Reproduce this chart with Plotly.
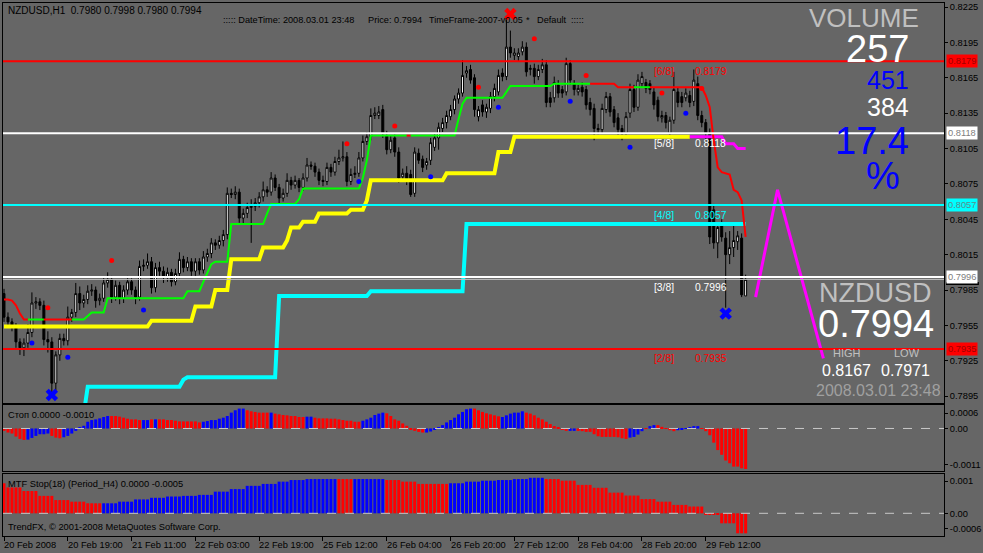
import plotly.graph_objects as go

# ---------------- DATA ----------------
opens = [
0.7982, 0.7962, 0.7958, 0.7954, 0.7941, 0.7936, 0.7940, 0.7949, 0.7974, 0.7975,
0.7972, 0.7943, 0.7941, 0.7906, 0.7930, 0.7944, 0.7942, 0.7962, 0.7966, 0.7982,
0.7974, 0.7977, 0.7984, 0.7985, 0.7976, 0.7978, 0.7991, 0.7994, 0.7979, 0.7989,
0.7978, 0.7985, 0.7992, 0.7985, 0.7979, 0.8005, 0.8006, 0.8009, 0.7987, 0.8004,
0.8001, 0.7996, 0.8000, 0.7992, 0.7999, 0.8011, 0.8004, 0.8009, 0.8001, 0.8009,
0.8002, 0.8013, 0.8016, 0.8025, 0.8023, 0.8027, 0.8032, 0.8067, 0.8066, 0.8068,
0.8046, 0.8050, 0.8055, 0.8056, 0.8059, 0.8064, 0.8070, 0.8068, 0.8080, 0.8072,
0.8063, 0.8067, 0.8078, 0.8074, 0.8078, 0.8072, 0.8080, 0.8091, 0.8090, 0.8085,
0.8078, 0.8077, 0.8089, 0.8085, 0.8094, 0.8097, 0.8098, 0.8077, 0.8083, 0.8084,
0.8097, 0.8111, 0.8115, 0.8133, 0.8133, 0.8138, 0.8116, 0.8104, 0.8114, 0.8102,
0.8081, 0.8084, 0.8083, 0.8067, 0.8101, 0.8096, 0.8091, 0.8095, 0.8106, 0.8114,
0.8122, 0.8127, 0.8132, 0.8138, 0.8147, 0.8152, 0.8169, 0.8172, 0.8165, 0.8132,
0.8142, 0.8136, 0.8139, 0.8149, 0.8153, 0.8169, 0.8166, 0.8191, 0.8184, 0.8183,
0.8187, 0.8191, 0.8172, 0.8173, 0.8166, 0.8172, 0.8176, 0.8148, 0.8148, 0.8159,
0.8155, 0.8153, 0.8177, 0.8160, 0.8153, 0.8157, 0.8155, 0.8144, 0.8139, 0.8122,
0.8121, 0.8138, 0.8149, 0.8138, 0.8131, 0.8122, 0.8118, 0.8135, 0.8155, 0.8140,
0.8160, 0.8161, 0.8160, 0.8153, 0.8146, 0.8131, 0.8133, 0.8118, 0.8129, 0.8153,
0.8149, 0.8148, 0.8150, 0.8145, 0.8160, 0.8133, 0.8127, 0.8118, 0.8053, 0.8025,
0.8040, 0.8029, 0.8015, 0.8021, 0.8026, 0.8029, 0.7980]
highs = [
0.7986, 0.7966, 0.7961, 0.7957, 0.7944, 0.7944, 0.7956, 0.7983, 0.7979, 0.7978,
0.7976, 0.7950, 0.7945, 0.7933, 0.7948, 0.7948, 0.7971, 0.7969, 0.7991, 0.7988,
0.7981, 0.7989, 0.7990, 0.7988, 0.7982, 0.7996, 0.8000, 0.7997, 0.7993, 0.7992,
0.7989, 0.7997, 0.7995, 0.7988, 0.8010, 0.8011, 0.8016, 0.8013, 0.8008, 0.8009,
0.8005, 0.8004, 0.8003, 0.8003, 0.8017, 0.8014, 0.8013, 0.8012, 0.8012, 0.8012,
0.8018, 0.8020, 0.8029, 0.8028, 0.8031, 0.8036, 0.8072, 0.8071, 0.8073, 0.8071,
0.8054, 0.8059, 0.8062, 0.8063, 0.8068, 0.8077, 0.8073, 0.8085, 0.8083, 0.8075,
0.8071, 0.8084, 0.8081, 0.8082, 0.8080, 0.8084, 0.8097, 0.8094, 0.8093, 0.8088,
0.8082, 0.8093, 0.8092, 0.8098, 0.8104, 0.8111, 0.8102, 0.8088, 0.8090, 0.8102,
0.8116, 0.8119, 0.8139, 0.8140, 0.8141, 0.8142, 0.8120, 0.8116, 0.8117, 0.8106,
0.8088, 0.8090, 0.8087, 0.8106, 0.8105, 0.8099, 0.8097, 0.8114, 0.8118, 0.8127,
0.8131, 0.8137, 0.8142, 0.8150, 0.8156, 0.8180, 0.8175, 0.8176, 0.8168, 0.8141,
0.8146, 0.8143, 0.8153, 0.8160, 0.8172, 0.8173, 0.8214, 0.8205, 0.8190, 0.8190,
0.8196, 0.8195, 0.8176, 0.8177, 0.8176, 0.8181, 0.8180, 0.8153, 0.8166, 0.8163,
0.8158, 0.8182, 0.8180, 0.8163, 0.8159, 0.8161, 0.8158, 0.8148, 0.8143, 0.8126,
0.8143, 0.8153, 0.8152, 0.8141, 0.8135, 0.8125, 0.8136, 0.8160, 0.8159, 0.8168,
0.8170, 0.8164, 0.8163, 0.8157, 0.8149, 0.8137, 0.8136, 0.8132, 0.8170, 0.8157,
0.8153, 0.8156, 0.8154, 0.8172, 0.8166, 0.8137, 0.8130, 0.8122, 0.8058, 0.8041,
0.8045, 0.8034, 0.8035, 0.8042, 0.8035, 0.8033, 0.7998]
lows = [
0.7958, 0.7953, 0.7950, 0.7936, 0.7930, 0.7929, 0.7936, 0.7945, 0.7969, 0.7968,
0.7938, 0.7932, 0.7897, 0.7899, 0.7925, 0.7938, 0.7938, 0.7958, 0.7962, 0.7968,
0.7970, 0.7973, 0.7980, 0.7970, 0.7972, 0.7975, 0.7987, 0.7974, 0.7976, 0.7973,
0.7974, 0.7981, 0.7981, 0.7973, 0.7976, 0.8001, 0.8003, 0.7982, 0.7983, 0.7997,
0.7991, 0.7992, 0.7988, 0.7989, 0.7995, 0.8000, 0.8001, 0.7997, 0.7997, 0.7998,
0.7999, 0.8009, 0.8012, 0.8019, 0.8020, 0.8022, 0.8028, 0.8063, 0.8062, 0.8042,
0.8041, 0.8046, 0.8025, 0.8052, 0.8055, 0.8060, 0.8064, 0.8065, 0.8069, 0.8058,
0.8060, 0.8064, 0.8070, 0.8071, 0.8068, 0.8069, 0.8077, 0.8087, 0.8081, 0.8074,
0.8073, 0.8074, 0.8081, 0.8082, 0.8091, 0.8094, 0.8073, 0.8074, 0.8080, 0.8081,
0.8094, 0.8108, 0.8112, 0.8130, 0.8130, 0.8114, 0.8100, 0.8101, 0.8098, 0.8076,
0.8077, 0.8074, 0.8064, 0.8064, 0.8092, 0.8085, 0.8087, 0.8091, 0.8103, 0.8104,
0.8119, 0.8122, 0.8129, 0.8134, 0.8143, 0.8149, 0.8165, 0.8160, 0.8132, 0.8128,
0.8132, 0.8131, 0.8135, 0.8145, 0.8150, 0.8162, 0.8163, 0.8182, 0.8180, 0.8179,
0.8184, 0.8166, 0.8167, 0.8160, 0.8163, 0.8169, 0.8140, 0.8140, 0.8144, 0.8148,
0.8148, 0.8150, 0.8159, 0.8150, 0.8150, 0.8149, 0.8138, 0.8133, 0.8112, 0.8117,
0.8118, 0.8135, 0.8132, 0.8123, 0.8115, 0.8112, 0.8114, 0.8131, 0.8136, 0.8137,
0.8157, 0.8152, 0.8151, 0.8138, 0.8128, 0.8127, 0.8122, 0.8114, 0.8126, 0.8140,
0.8140, 0.8145, 0.8140, 0.8141, 0.8129, 0.8123, 0.8112, 0.8024, 0.8020, 0.8012,
0.8026, 0.7970, 0.8007, 0.8013, 0.8019, 0.7979, 0.7980]
closes = [
0.7962, 0.7958, 0.7954, 0.7941, 0.7936, 0.7940, 0.7949, 0.7974, 0.7975, 0.7972,
0.7943, 0.7941, 0.7906, 0.7930, 0.7944, 0.7942, 0.7962, 0.7966, 0.7982, 0.7974,
0.7977, 0.7984, 0.7985, 0.7976, 0.7978, 0.7991, 0.7994, 0.7979, 0.7989, 0.7978,
0.7985, 0.7992, 0.7985, 0.7979, 0.8005, 0.8006, 0.8009, 0.7987, 0.8004, 0.8001,
0.7996, 0.8000, 0.7992, 0.7999, 0.8011, 0.8004, 0.8009, 0.8001, 0.8009, 0.8002,
0.8013, 0.8016, 0.8025, 0.8023, 0.8027, 0.8032, 0.8067, 0.8066, 0.8068, 0.8046,
0.8050, 0.8055, 0.8056, 0.8059, 0.8064, 0.8070, 0.8068, 0.8080, 0.8072, 0.8063,
0.8067, 0.8078, 0.8074, 0.8078, 0.8072, 0.8080, 0.8091, 0.8090, 0.8085, 0.8078,
0.8077, 0.8089, 0.8085, 0.8094, 0.8097, 0.8098, 0.8077, 0.8083, 0.8084, 0.8097,
0.8111, 0.8115, 0.8133, 0.8135, 0.8136, 0.8118, 0.8104, 0.8112, 0.8102, 0.8080,
0.8084, 0.8078, 0.8066, 0.8102, 0.8095, 0.8089, 0.8094, 0.8110, 0.8114, 0.8123,
0.8127, 0.8133, 0.8138, 0.8147, 0.8152, 0.8167, 0.8171, 0.8163, 0.8138, 0.8138,
0.8136, 0.8140, 0.8149, 0.8156, 0.8167, 0.8166, 0.8191, 0.8186, 0.8186, 0.8186,
0.8191, 0.8170, 0.8173, 0.8166, 0.8172, 0.8176, 0.8144, 0.8144, 0.8161, 0.8152,
0.8152, 0.8177, 0.8163, 0.8155, 0.8156, 0.8153, 0.8142, 0.8138, 0.8122, 0.8121,
0.8139, 0.8149, 0.8136, 0.8127, 0.8121, 0.8118, 0.8132, 0.8155, 0.8140, 0.8163,
0.8166, 0.8156, 0.8155, 0.8142, 0.8132, 0.8133, 0.8127, 0.8129, 0.8155, 0.8144,
0.8144, 0.8152, 0.8144, 0.8163, 0.8133, 0.8127, 0.8118, 0.8030, 0.8025, 0.8038,
0.8030, 0.8015, 0.8021, 0.8027, 0.8031, 0.7981, 0.7994]

time_tick_bars = [0, 16, 32, 48, 64, 80, 96, 112, 128, 144, 160, 176]
time_tick_labels = ["20 Feb 2008", "20 Feb 19:00", "21 Feb 11:00", "22 Feb 03:00",
                    "22 Feb 19:00", "25 Feb 12:00", "26 Feb 04:00", "26 Feb 20:00",
                    "27 Feb 12:00", "28 Feb 04:00", "28 Feb 20:00", "29 Feb 12:00"]

price_ticks = [0.8225, 0.8195, 0.8165, 0.8135, 0.8105, 0.8075, 0.8045, 0.8015,
               0.7985, 0.7955, 0.7925, 0.7895]

# green/red trailing stop
stop_line = ([0.7977, 0.7977, 0.7976, 0.7972, 0.7965, 0.7960] + [0.7960] * 15 + [0.7963]
             + [0.7966] * 4 + [0.7978] * 20 + [0.7984] * 4 + [0.7992, 0.8000, 0.8007]
             + [0.8009] * 4 + [0.8041] * 9 + [0.8050] + [0.8058] * 7 + [0.8062]
             + [0.8071] * 15 + [0.8080, 0.8095] + [0.8116] * 22 + [0.8130, 0.8143]
             + [0.8148] * 10 + [0.8153] + [0.8158] * 11 + [0.8160] * 16 + [0.8157] * 22
             + [0.8150, 0.8140, 0.8112, 0.8089, 0.8085, 0.8084, 0.8083, 0.8070, 0.8068,
                0.8061, 0.8030])
stop_dir = "r" * 6 + "g" * 4 + "r" * 7 + "g" * 84 + "r" + "g" * 45 + "r" * 11 + "g" * 4 + "r" * 25

# yellow (later magenta) stop
trail_line = ([0.7954] * 37 + [0.7959] * 11 + [0.7971] * 5 + [0.7985] * 4 + [0.8011] * 8
              + [0.8021] * 6 + [0.8027] + [0.8038] * 3 + [0.8043] * 4 + [0.8050] * 8
              + [0.8053] * 4 + [0.8061] + [0.8078] * 19 + [0.8084] * 13 + [0.8102] * 4
              + [0.8115] * 53 + [0.8109] * 3 + [0.8105] * 3)
trail_magenta_from = 172

# cyan stop
cyan_line = ([None] * 20 + [0.7880] + [0.7903] * 24 + [0.7909] + [0.7911] * 23
             + [0.7980] * 23 + [0.7984] * 24 + [0.8041] * 71)

red_dot_bars = [11, 27, 86, 98, 119, 133, 146, 165, 175]
red_dot_prices = [0.7970, 0.8010, 0.8109, 0.8124, 0.8157, 0.8198, 0.8167, 0.8152, 0.8156]
blue_dot_bars = [7, 16, 35, 89, 107, 124, 142, 157, 171]
blue_dot_prices = [0.7940, 0.7928, 0.7968, 0.8077, 0.8081, 0.8140, 0.8145, 0.8106, 0.8135]

x_mark_bars = [127, 12, 181]
x_mark_prices = [0.8219, 0.7896, 0.7965]
x_mark_colors = ["#FF0000", "#0000FF", "#0000FF"]

zigzag_bars = [188.5, 194, 205.5]
zigzag_prices = [0.7979, 0.8070, 0.7927]

murrey_levels = [0.8179, 0.8118, 0.8057, 0.7996, 0.7935]
murrey_names = ["[6/8]", "[5/8]", "[4/8]", "[3/8]", "[2/8]"]
murrey_colors = ["#FF0000", "#FFFFFF", "#00FFFF", "#FFFFFF", "#FF0000"]
murrey_box_text = ["#A00000", "#808080", "#5A8C8C", "#808080", "#A00000"]
bid_price = 0.7994

# sub-window 1 "Стоп" histogram (units of 1e-5)
cron_e5 = [
-7, -12, -15, -24, -31, -34, -33, -28, -22, -17,
-17, -15, -22, -27, -29, -26, -22, -15, -7, 3,
8, 20, 25, 27, 30, 34, 37, 37, 37, 35,
32, 29, 27, 27, 25, 25, 25, 27, 27, 27,
27, 25, 25, 23, 21, 21, 21, 21, 21, 18,
20, 22, 25, 25, 29, 32, 37, 47, 54, 59,
59, 54, 51, 49, 47, 47, 47, 47, 44, 42,
40, 39, 37, 37, 34, 34, 35, 35, 32, 30,
30, 30, 29, 29, 27, 25, 23, 23, 20, 20,
23, 27, 32, 40, 44, 47, 45, 37, 27, 23,
15, 8, -2, -7, -10, -12, -12, -9, -4, 3,
10, 18, 25, 32, 42, 49, 57, 59, 59, 54,
49, 45, 42, 39, 36, 34, 39, 44, 47, 47,
51, 47, 44, 39, 32, 27, 20, 13, 7, 3,
-3, -7, -7, -7, -7, -8, -10, -10, -17, -23,
-25, -25, -25, -25, -26, -29, -31, -27, -25, -18,
-8, -1, 7, 10, 10, 5, -1, -5, -8, -5,
-2, 1, 3, 7, 7, -1, -8, -20, -42, -64,
-78, -95, -103, -113, -113, -118, -120]
cron_colors = ("r" * 6 + "b" * 6 + "r" * 3 + "b" * 12 + "r" * 8 + "b" * 2 + "r" + "b"
               + "r" * 11 + "b" * 11 + "r" * 6 + "b" + "r" * 8 + "b" * 2 + "r" * 12
               + "b" * 6 + "r" * 10 + "b" * 12 + "r" * 7 + "b" * 6 + "r" * 11 + "b" * 2
               + "r" * 13 + "b" * 4 + "r" + "b" * 2 + "r" * 5 + "b" * 6 + "r" * 12)

# sub-window 2 "MTF Stop" (H4 steps, units of 1e-5)
mtf_levels_e5 = [93, 80, 69, 54, 41, 36, 31, 31, 36, 43, 48, 52, 54, 57, 67, 75, 85, 91, 98,
                 103, 106, 106, 106, 103, 98, 91, 93, 98, 101, 103, 106, 110, 106, 101, 88,
                 79, 64, 55, 44, 36, 26, 21, -3, -31, -62]
mtf_counts = [1, 4, 4, 4, 4, 4, 4, 4, 4, 4, 4, 4, 4, 4, 4, 4, 4, 4, 3,
              4, 8, 4, 8, 4, 4, 8, 4, 4, 4, 4, 4, 4, 4, 4, 4,
              4, 4, 4, 4, 4, 4, 4, 4, 4, 3]
mtf_colors = "rrrrrrrbbbbbbbbbbbbbbrbrrrbbbbbbrrrrrrrrrrrrr"

# ---------------- FIGURE ----------------
BG = "#666666"
SMALL = "Liberation Sans, Arial"
BIG = "Liberation Sans, Arial"
FS = 9.3
RED, BLUE = "#FF0000", "#0000FF"
N = len(closes)
idx = list(range(N))
XR = [-0.25, 235.75]
L, R, T, B = 2, 946, 3, 536


def pp(x, y):
    return (x - L) / (R - L), (B - y) / (B - T)


fig = go.Figure()

fig.add_trace(go.Candlestick(
    x=idx, open=opens, high=highs, low=lows, close=closes,
    increasing=dict(fillcolor="#FFFFFF", line=dict(color="#000000", width=1)),
    decreasing=dict(fillcolor="#000000", line=dict(color="#000000", width=1)),
    whiskerwidth=0, hoverinfo="skip", xaxis="x", yaxis="y"))

# cyan thick stop
fig.add_trace(go.Scatter(x=idx, y=cyan_line, mode="lines", line=dict(color="#00FFFF", width=4),
                         hoverinfo="skip", connectgaps=False))
# yellow / magenta
fig.add_trace(go.Scatter(x=idx[:trail_magenta_from + 1], y=trail_line[:trail_magenta_from + 1],
                         mode="lines", line=dict(color="#FFFF00", width=4), hoverinfo="skip"))
fig.add_trace(go.Scatter(x=idx[trail_magenta_from:], y=trail_line[trail_magenta_from:],
                         mode="lines", line=dict(color="#FF00FF", width=3), hoverinfo="skip"))
# green / red stop in runs
start = 0
while start < N:
    end = start
    while end + 1 < N and stop_dir[end + 1] == stop_dir[start]:
        end += 1
    stop = min(end + 1, N - 1)
    col = "#00FF00" if stop_dir[start] == "g" else RED
    fig.add_trace(go.Scatter(x=idx[start:stop + 1], y=stop_line[start:stop + 1], mode="lines",
                             line=dict(color=col, width=2), hoverinfo="skip"))
    start = end + 1

# fractal dots
fig.add_trace(go.Scatter(x=red_dot_bars, y=red_dot_prices, mode="markers",
                         marker=dict(color=RED, size=5), hoverinfo="skip"))
fig.add_trace(go.Scatter(x=blue_dot_bars, y=blue_dot_prices, mode="markers",
                         marker=dict(color=BLUE, size=5), hoverinfo="skip"))
fig.add_trace(go.Scatter(x=x_mark_bars, y=x_mark_prices, mode="markers",
                         marker=dict(color=x_mark_colors, size=11, symbol="x", line=dict(width=0)),
                         hoverinfo="skip"))
# zigzag projection
fig.add_trace(go.Scatter(x=zigzag_bars, y=zigzag_prices, mode="lines",
                         line=dict(color="#FF00FF", width=3), hoverinfo="skip"))

# sub-window 1
fig.add_trace(go.Bar(x=idx, y=[v * 1e-5 for v in cron_e5],
                     marker=dict(color=[RED if c == "r" else BLUE for c in cron_colors], line=dict(width=0)),
                     xaxis="x2", yaxis="y2", hoverinfo="skip"))
# sub-window 2
mtf_vals, mtf_cols = [], []
for lvl, cnt, c in zip(mtf_levels_e5, mtf_counts, mtf_colors):
    mtf_vals += [lvl * 1e-5] * cnt
    mtf_cols += [RED if c == "r" else BLUE] * cnt
fig.add_trace(go.Bar(x=idx, y=mtf_vals, marker=dict(color=mtf_cols, line=dict(width=0)),
                     xaxis="x3", yaxis="y3", hoverinfo="skip"))

shapes = []
for lvl, col in zip(murrey_levels, murrey_colors):
    shapes.append(dict(type="line", xref="x domain", yref="y", x0=0, x1=1, y0=lvl, y1=lvl,
                       line=dict(color=col, width=2), layer="above"))
shapes.append(dict(type="line", xref="x domain", yref="y", x0=0, x1=1, y0=bid_price, y1=bid_price,
                   line=dict(color="#C0C0C0", width=1), layer="above"))
for yr in ["y2", "y3"]:
    shapes.append(dict(type="line", xref="x domain", yref=yr, x0=0, x1=1, y0=0, y1=0,
                       line=dict(color="#C8C8C8", width=1, dash="dash"), layer="above"))
bx0, by0 = pp(948, 282)
bx1, by1 = pp(981, 285)
shapes.append(dict(type="rect", xref="paper", yref="paper", x0=bx0, x1=bx1, y0=by1, y1=by0,
                   fillcolor="#000000", line=dict(width=0)))

ann = []


def text(x, y, s, size, color, family=SMALL, xanchor="left"):
    px_, py_ = pp(x, y)
    ann.append(dict(xref="paper", yref="paper", x=px_, y=py_, text=s, showarrow=False,
                    xanchor=xanchor, yanchor="middle", font=dict(family=family, size=size, color=color)))


NB = "\u00a0"
text(5, 10, "NZDUSD,H1" + NB * 2 + "0.7980 0.7998 0.7980 0.7994", 10, "#000000")
text(221, 20, ":::::" + NB + "DateTime:" + NB + "2008.03.01" + NB + "23:48", 9.2, "#000000")
text(366, 20, "Price:" + NB + "0.7994", 9.2, "#000000")
text(427, 20, "TimeFrame-2007-v0.05", 9, "#000000")
text(525, 20, "*", 9.2, "#000000")
text(536, 20, "Default", 9.2, "#000000")
text(570, 20, ":::::", 9.2, "#000000")
text(5, 415, "Стоп 0.0000 -0.0010", FS, "#000000")
text(5, 484, "MTF Stop(18) (Period_H4) 0.0000 -0.0005", FS, "#000000")
text(5, 527, "TrendFX, © 2001-2008 MetaQuotes Software Corp.", FS, "#000000")

# right side info block
text(866, 18, "VOLUME", 26, "#C0C0C0", BIG, "center")
text(913, 49, "257", 38, "#FFFFFF", BIG, "right")
text(913, 80, "451", 25, BLUE, BIG, "right")
text(913, 107, "384", 25, "#FFFFFF", BIG, "right")
text(913, 141, "17.4", 38, BLUE, BIG, "right")
text(885, 176, "%", 38, BLUE, BIG, "center")
text(877, 293, "NZDUSD", 27, "#C0C0C0", BIG, "center")
text(878, 324, "0.7994", 38, "#FFFFFF", BIG, "center")
text(849, 353, "HIGH", 11, "#C0C0C0", BIG, "center")
text(909, 353, "LOW", 11, "#C0C0C0", BIG, "center")
text(848, 370, "0.8167", 16, "#FFFFFF", BIG, "center")
text(907, 370, "0.7971", 16, "#FFFFFF", BIG, "center")
text(880, 390, "2008.03.01 23:48", 16, "#A0A0A0", BIG, "center")

# murrey labels on chart and price boxes on the axis
for lvl, name, col, tcol in zip(murrey_levels, murrey_names, murrey_colors, murrey_box_text):
    ann.append(dict(xref="x", yref="y", x=162.5, y=lvl, yshift=-10, text=name, showarrow=False,
                    xanchor="left", yanchor="middle", font=dict(family=SMALL, size=10.3, color=col)))
    ann.append(dict(xref="x", yref="y", x=172.8, y=lvl, yshift=-10, text=f"{lvl:.4f}", showarrow=False,
                    xanchor="left", yanchor="middle", font=dict(family=SMALL, size=10.3, color=col)))
    ann.append(dict(xref="paper", yref="y", x=1, xshift=2, y=lvl, text=f"{lvl:.4f}", showarrow=False,
                    xanchor="left", yanchor="middle", bgcolor=col, borderpad=1,
                    font=dict(family=SMALL, size=FS, color=tcol)))

# time labels
for b, lab in zip(time_tick_bars, time_tick_labels):
    ann.append(dict(xref="x3", yref="paper", x=b, y=pp(0, 545)[1], xshift=-2, text=lab, showarrow=False,
                    xanchor="left", yanchor="middle", font=dict(family=SMALL, size=FS, color="#000000")))

frame = dict(showline=True, mirror=True, linecolor="#000000", linewidth=1, showgrid=False,
             zeroline=False, fixedrange=True)
tickf = dict(family=SMALL, size=FS, color="#000000")

fig.update_layout(
    width=983, height=553, autosize=False,
    margin=dict(l=L, r=983 - R, t=T, b=553 - B),
    paper_bgcolor=BG, plot_bgcolor=BG, showlegend=False,
    boxgap=0.3, bargap=0.25,
    xaxis=dict(domain=[0, 1], range=XR, anchor="y", showticklabels=False, ticks="",
               rangeslider=dict(visible=False), **frame),
    xaxis2=dict(domain=[0, 1], range=XR, anchor="y2", showticklabels=False, ticks="", **frame),
    xaxis3=dict(domain=[0, 1], range=XR, anchor="y3", showticklabels=False, ticks="outside",
                tickvals=time_tick_bars, ticklen=4, tickcolor="#000000", **frame),
    yaxis=dict(domain=[(B - 403) / (B - T), 1], range=[0.78892, 0.82284], anchor="x", side="right",
               tickvals=price_ticks, ticktext=[f"{p:.4f}" for p in price_ticks], ticks="outside",
               ticklen=3, tickcolor="#000000", tickfont=tickf, **frame),
    yaxis2=dict(domain=[(B - 471) / (B - T), (B - 405) / (B - T)], range=[-0.00126, 0.000696],
                anchor="x2", side="right", tickvals=[0.000459, 0, -0.001082],
                ticktext=["0.0006", "0.00", "-0.0011"], ticks="outside", ticklen=3,
                tickcolor="#000000", tickfont=tickf, **frame),
    yaxis3=dict(domain=[0, (B - 474) / (B - T)], range=[-0.000703, 0.001217], anchor="x3",
                side="right", tickvals=[0.001, 0, -0.000486], ticktext=["0.001", "0.00", "-0.0006"],
                ticks="outside", ticklen=3, tickcolor="#000000", tickfont=tickf, **frame),
    shapes=shapes, annotations=ann,
)

fig.write_html("out.html", config={"displayModeBar": False},
               post_script="document.body.style.margin='0';document.body.style.overflow='hidden';"
                           "document.body.style.background='" + BG + "';")
